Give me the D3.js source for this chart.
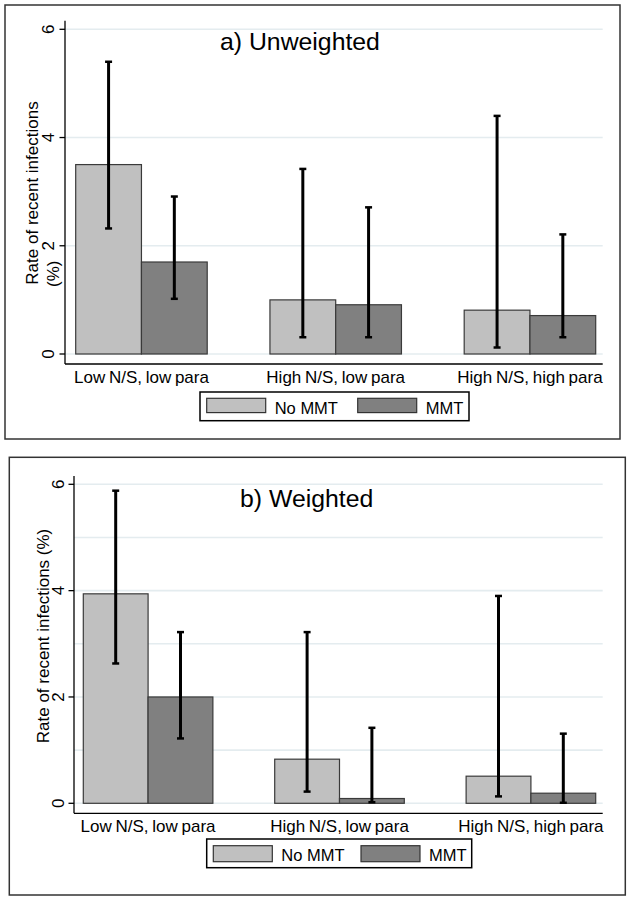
<!DOCTYPE html>
<html>
<head>
<meta charset="utf-8">
<script src="https://cdn.jsdelivr.net/npm/d3@7"></script>
<style>
  html, body { margin: 0; padding: 0; background: #fff; }
  svg { display: block; font-family: "Liberation Sans", Arial, Helvetica, sans-serif; }
</style>
</head>
<body>
<svg id="chart" width="631" height="900"></svg>
<script>
// ---------- data ----------
const categories = ["Low N/S, low para", "High N/S, low para", "High N/S, high para"];
const seriesNames = ["No MMT", "MMT"];
const yTickLabels = [0, 2, 4, 6];

// a) Unweighted
const unwNoMMT      = [3.50, 1.00, 0.81];
const unwNoMMTLow   = [2.32, 0.31, 0.12];
const unwNoMMTHigh  = [5.40, 3.42, 4.40];
const unwMMT        = [1.70, 0.91, 0.71];
const unwMMTLow     = [1.02, 0.31, 0.31];
const unwMMTHigh    = [2.91, 2.71, 2.21];
const unwGrid       = [0, 2, 4, 6];

// b) Weighted
const wNoMMT        = [3.94, 0.83, 0.51];
const wNoMMTLow     = [2.63, 0.22, 0.13];
const wNoMMTHigh    = [5.88, 3.22, 3.90];
const wMMT          = [2.00, 0.09, 0.19];
const wMMTLow       = [1.22, 0.02, 0.01];
const wMMTHigh      = [3.22, 1.42, 1.31];
const wGrid         = [0, 1, 2, 3, 4, 5, 6];

// ---------- styles ----------
const colors = { "No MMT": "#c0c0c0", "MMT": "#808080" };
const gridColor = "#e4ecef";
const fontSize = 17;

const svg = d3.select("#chart");

function drawPanel(cfg) {
  const g = svg.append("g");
  g.append("rect")
    .attr("x", cfg.frame[0]).attr("y", cfg.frame[1])
    .attr("width", cfg.frame[2] - cfg.frame[0]).attr("height", cfg.frame[3] - cfg.frame[1])
    .attr("fill", "#fff").attr("stroke", "#333").attr("stroke-width", 1.5);

  const y = d3.scaleLinear().domain([0, 6]).range([cfg.y0, cfg.y6]);
  const x0 = d3.scaleBand().domain(categories)
    .range([cfg.barL, cfg.barR]).paddingInner(0.323).paddingOuter(0);
  const x1 = d3.scaleBand().domain(seriesNames).range([0, x0.bandwidth()]).padding(0);

  g.append("g").selectAll("line").data(cfg.grid).join("line")
    .attr("x1", cfg.axL).attr("x2", cfg.axR)
    .attr("y1", d => y(d)).attr("y2", d => y(d))
    .attr("stroke", gridColor).attr("stroke-width", 1.6);

  const rows = categories.map((c, i) => ({
    cat: c,
    vals: [
      { s: "No MMT", v: cfg.noMMT[i], lo: cfg.noMMTLow[i], hi: cfg.noMMTHigh[i] },
      { s: "MMT", v: cfg.mmt[i], lo: cfg.mmtLow[i], hi: cfg.mmtHigh[i] }
    ]
  }));

  const grp = g.append("g").selectAll("g").data(rows).join("g")
    .attr("transform", d => `translate(${x0(d.cat)},0)`);

  grp.selectAll("rect").data(d => d.vals).join("rect")
    .attr("x", d => x1(d.s)).attr("width", x1.bandwidth())
    .attr("y", d => y(d.v)).attr("height", d => y(0) - y(d.v))
    .attr("fill", d => colors[d.s]).attr("stroke", "#3a3a3a").attr("stroke-width", 1.2);

  const eb = grp.selectAll("g.eb").data(d => d.vals).join("g").attr("class", "eb");
  const cx = d => x1(d.s) + x1.bandwidth() / 2;
  eb.append("line")
    .attr("x1", cx).attr("x2", cx)
    .attr("y1", d => y(d.lo)).attr("y2", d => y(d.hi))
    .attr("stroke", "#000").attr("stroke-width", 3);
  eb.append("line")
    .attr("x1", d => cx(d) - 3.5).attr("x2", d => cx(d) + 3.5)
    .attr("y1", d => y(d.hi)).attr("y2", d => y(d.hi))
    .attr("stroke", "#000").attr("stroke-width", 2.5);
  eb.append("line")
    .attr("x1", d => cx(d) - 3.5).attr("x2", d => cx(d) + 3.5)
    .attr("y1", d => y(d.lo)).attr("y2", d => y(d.lo))
    .attr("stroke", "#000").attr("stroke-width", 2.5);

  g.append("line").attr("x1", cfg.axL).attr("x2", cfg.axL)
    .attr("y1", cfg.axT).attr("y2", cfg.axB).attr("stroke", "#000").attr("stroke-width", 1.3);
  g.append("line").attr("x1", cfg.axL).attr("x2", cfg.axR)
    .attr("y1", cfg.axB).attr("y2", cfg.axB).attr("stroke", "#000").attr("stroke-width", 1.3);

  g.append("g").selectAll("line").data(yTickLabels).join("line")
    .attr("x1", cfg.axL - 5.5).attr("x2", cfg.axL)
    .attr("y1", d => y(d)).attr("y2", d => y(d))
    .attr("stroke", "#000").attr("stroke-width", 1.3);
  g.append("g").selectAll("text").data(yTickLabels).join("text")
    .attr("transform", d => `translate(${cfg.tickLabX},${y(d)}) rotate(-90)`)
    .attr("text-anchor", "middle")
    .attr("font-size", fontSize).attr("fill", "#000")
    .text(d => d);

  g.append("g").selectAll("text").data(categories).join("text")
    .attr("x", d => x0(d) + x0.bandwidth() / 2).attr("y", cfg.xLabY)
    .attr("text-anchor", "middle").attr("font-size", fontSize).attr("fill", "#000")
    .attr("word-spacing", -1)
    .text(d => d);

  cfg.yTitle.forEach(t => {
    g.append("text")
      .attr("transform", `translate(${t.x},${t.y}) rotate(-90)`)
      .attr("text-anchor", t.anchor).attr("font-size", fontSize).attr("fill", "#000")
      .text(t.text);
  });

  g.append("text").attr("x", cfg.titleX).attr("y", cfg.titleY)
    .attr("font-size", 24.8).attr("fill", "#000").text(cfg.title);

  const L = cfg.legend;
  g.append("rect").attr("x", L.x).attr("y", L.y).attr("width", L.w).attr("height", L.h)
    .attr("fill", "#fff").attr("stroke", "#000").attr("stroke-width", 1.5);
  const items = g.append("g").selectAll("g").data(seriesNames).join("g")
    .attr("transform", (d, i) => `translate(${L.x + L.itemX[i]},${L.y})`);
  items.append("rect").attr("x", 0).attr("y", L.swY).attr("width", 59).attr("height", L.swH)
    .attr("fill", d => colors[d]).attr("stroke", "#333").attr("stroke-width", 1.2);
  items.append("text").attr("x", 68).attr("y", L.txtY)
    .attr("font-size", 16.5).attr("fill", "#000").text(d => d);
}

drawPanel({
  frame: [5, 5, 620, 439],
  y0: 354, y6: 29.3,
  axL: 65, axR: 602.7, axT: 20.7, axB: 364,
  barL: 75.7, barR: 595.7,
  grid: unwGrid,
  noMMT: unwNoMMT, noMMTLow: unwNoMMTLow, noMMTHigh: unwNoMMTHigh,
  mmt: unwMMT, mmtLow: unwMMTLow, mmtHigh: unwMMTHigh,
  tickLabX: 54,
  xLabY: 383,
  yTitle: [
    { text: "Rate of recent infections", x: 38, y: 193, anchor: "middle" },
    { text: "(%)", x: 59, y: 287, anchor: "start" }
  ],
  title: "a) Unweighted", titleX: 220, titleY: 50,
  legend: { x: 200, y: 392, w: 269, h: 28.7, itemX: [6.7, 157.7], swY: 6.3, swH: 14.3, txtY: 21.5 }
});

drawPanel({
  frame: [9.3, 457.3, 625.3, 895],
  y0: 803.3, y6: 484.3,
  axL: 74, axR: 602.7, axT: 476, axB: 813.3,
  barL: 83.3, barR: 595.7,
  grid: wGrid,
  noMMT: wNoMMT, noMMTLow: wNoMMTLow, noMMTHigh: wNoMMTHigh,
  mmt: wMMT, mmtLow: wMMTLow, mmtHigh: wMMTHigh,
  tickLabX: 63.5,
  xLabY: 832,
  yTitle: [
    { text: "Rate of recent infections (%)", x: 48.5, y: 636, anchor: "middle" }
  ],
  title: "b) Weighted", titleX: 240, titleY: 507,
  legend: { x: 206.7, y: 839, w: 265, h: 28.7, itemX: [6.6, 154.3], swY: 6.7, swH: 16, txtY: 22 }
});
</script>
</body>
</html>
